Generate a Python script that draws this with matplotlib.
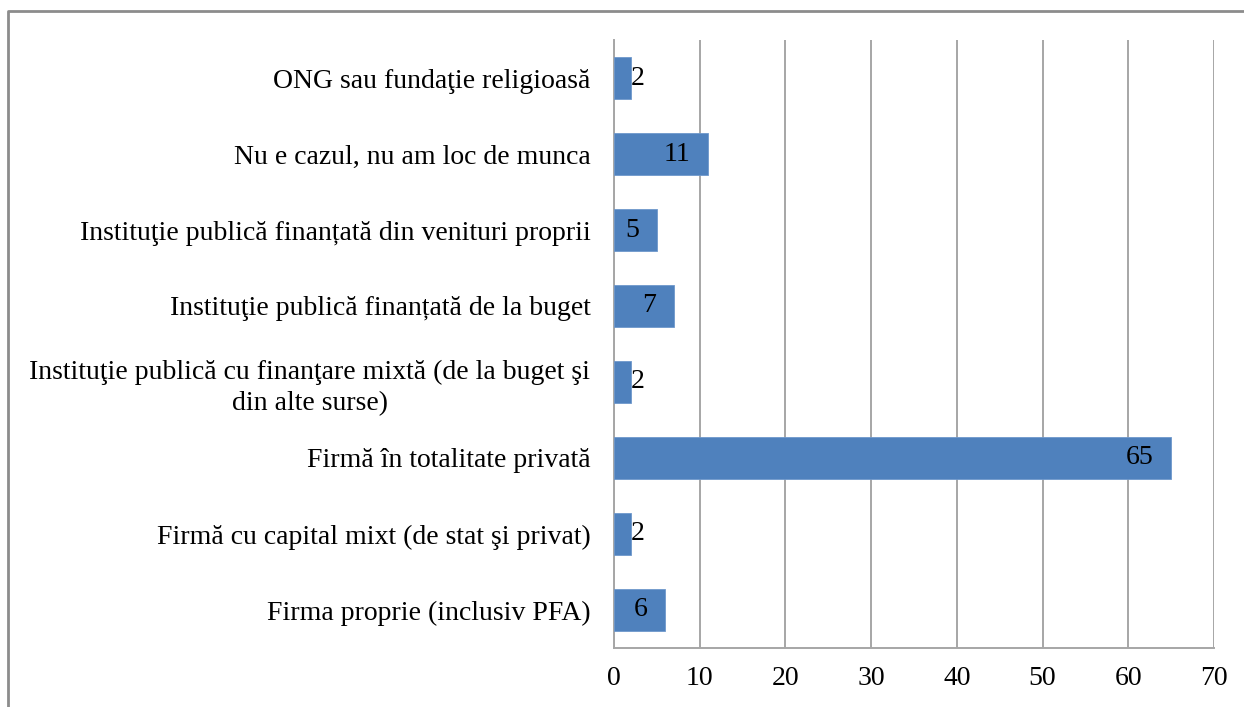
import matplotlib
matplotlib.use("Agg")
import matplotlib.pyplot as plt
from matplotlib.lines import Line2D

plt.rcParams['font.family'] = ['Liberation Serif', 'DejaVu Serif']

# categories from bottom to top
categories = [
    "Firma proprie (inclusiv PFA)",
    "Firmă cu capital mixt (de stat şi privat)",
    "Firmă în totalitate privată",
    "Instituţie publică cu finanţare mixtă (de la buget şi\ndin alte surse)",
    "Instituţie publică finanțată de la buget",
    "Instituţie publică finanțată din venituri proprii",
    "Nu e cazul, nu am loc de munca",
    "ONG sau fundaţie religioasă",
]
values = [6, 2, 65, 2, 7, 5, 11, 2]
xticks = [0, 10, 20, 30, 40, 50, 60, 70]

bar_color = '#4F81BD'
grid_color = '#A6A6A6'
fs = 20

fig = plt.figure(figsize=(12.44, 7.07), dpi=100)
ax = fig.add_axes([0.4936, 0.0835, 0.4823, 0.8599])

ypos = range(len(categories))
bars = ax.barh(ypos, values, height=0.56, color=bar_color, edgecolor='#6F98CC', linewidth=0.6, zorder=3)

ax.set_xlim(0, 70)
ax.set_ylim(-0.5, len(categories) - 0.5)
ax.set_xticks(xticks)
ax.set_yticks(list(ypos))
ax.set_yticklabels(categories, fontsize=fs, multialignment='center', linespacing=1.3)
ax.tick_params(axis='x', length=0, pad=13, labelsize=fs)
ax.tick_params(axis='y', length=0, pad=17)
ax.xaxis.grid(True, color=grid_color, linewidth=1.4, zorder=0)

for s in ['top', 'right']:
    ax.spines[s].set_visible(False)
for s in ['left', 'bottom']:
    ax.spines[s].set_color(grid_color)
    ax.spines[s].set_linewidth(1.4)

# value labels: inside end, or just outside when the bar is too short
for y, v in zip(ypos, values):
    if v < 3:
        ax.annotate(str(v), (v, y), xytext=(0, 0), textcoords='offset points',
                    ha='left', va='center', fontsize=fs)
    else:
        ax.annotate(str(v), (v, y), xytext=(-13, 0), textcoords='offset points',
                    ha='right', va='center', fontsize=fs)

# outer chart frame (partly cut off in the original)
fig.add_artist(Line2D([8 / 1244, 8 / 1244, 1.0], [0.0, 1 - 11 / 707, 1 - 11 / 707],
                      transform=fig.transFigure, color='#8C8C8C', linewidth=2))

plt.savefig('out.png', dpi=100)
